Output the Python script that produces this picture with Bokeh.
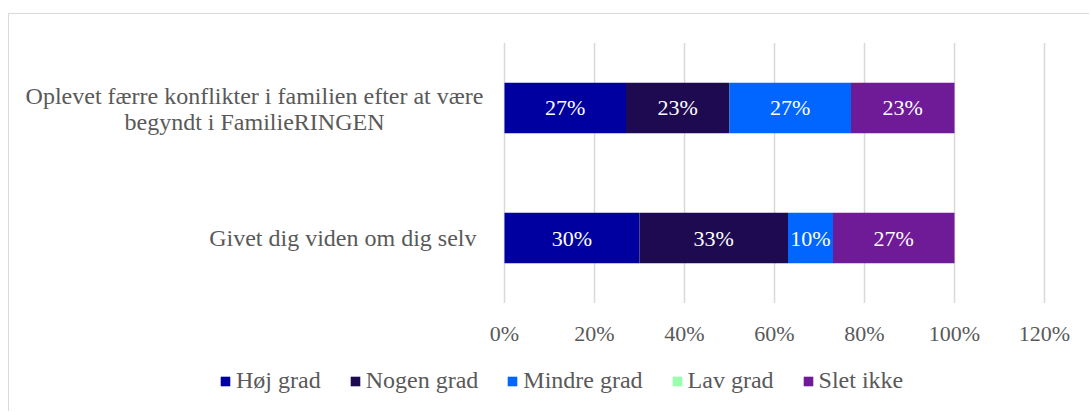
from bokeh.plotting import figure
from bokeh.models import ColumnDataSource, Range1d, Legend
from bokeh.core.properties import value
from bokeh.embed import file_html
from bokeh.resources import INLINE
import numpy as np

# ---- data ----
categories = ["Givet dig viden om dig selv",
              "Oplevet færre konflikter i familien efter at være begyndt i FamilieRINGEN"]
category_labels = ["Givet dig viden om dig selv",
                   "Oplevet færre konflikter i familien efter at være\nbegyndt i FamilieRINGEN"]
series = ["Høj grad", "Nogen grad", "Mindre grad", "Lav grad", "Slet ikke"]
hoej_grad = [0.30, 0.27]
nogen_grad = [0.33, 0.23]
mindre_grad = [0.10, 0.27]
lav_grad = [0.00, 0.00]
slet_ikke = [0.27, 0.23]
colors = ["#0000A0", "#1E0A50", "#0066FF", "#99FFAA", "#6F1A96"]
x_ticks = [0, 0.2, 0.4, 0.6, 0.8, 1.0, 1.2]
x_tick_labels = ["0%", "20%", "40%", "60%", "80%", "100%", "120%"]

FONT = "Liberation Serif"
GREY = "#595959"
GRID = "#d9d9d9"

values = [hoej_grad, nogen_grad, mindre_grad, lav_grad, slet_ikke]
ypos = list(range(len(categories)))
data = {"y": ypos}
for name, vals in zip(series, values):
    data[name] = vals
source = ColumnDataSource(data)

W, H = 1081, 398
p = figure(width=W, height=H, output_backend="svg", toolbar_location=None,
           x_range=Range1d(-1.1, 1.3022), y_range=Range1d(-1.342, 1.719),
           x_axis_location=None, y_axis_location=None, min_border=0)
p.styles = {"border-top": "1px solid #d9d9d9", "border-left": "1px solid #d9d9d9",
            "margin-top": "13px", "margin-left": "8px"}
p.outline_line_color = None
p.background_fill_color = "white"
p.border_fill_color = "white"
p.grid.grid_line_color = None

# vertical gridlines at the tick positions, spanning the category band
p.segment(x0=x_ticks, x1=x_ticks, y0=[-0.5] * len(x_ticks),
          y1=[len(categories) - 0.5] * len(x_ticks), line_color=GRID, line_width=1.5)

renderers = p.hbar_stack(series, y="y", height=0.39, color=colors, line_color=None,
                         source=source)

# value labels
arr = np.array(values)
cum = np.cumsum(arr, axis=0)
lx, ly, lt = [], [], []
for i in range(len(series)):
    for j in ypos:
        v = arr[i, j]
        if v > 0:
            lx.append(cum[i, j] - v / 2)
            ly.append(j)
            lt.append(f"{round(v * 100)}%")
p.text(x=lx, y=ly, text=lt, text_color="white", text_font=value(FONT),
       text_font_size="22px", text_align="center", text_baseline="middle")

# x tick labels
p.text(x=x_ticks, y=[-0.5] * len(x_ticks), text=x_tick_labels, y_offset=30,
       text_color=GREY, text_font=value(FONT), text_font_size="22px",
       text_align="center", text_baseline="middle")

# category labels
for j, lab in zip(ypos, category_labels):
    lines = lab.split("\n")
    n = len(lines)
    if n > 1:
        offs = [(k - (n - 1) / 2) * 26 + 1 for k in range(n)]
        p.text(x=[0] * n, y=[j] * n, text=lines, x_offset=-250, y_offset=offs,
               text_color=GREY, text_font=value(FONT), text_font_size="24px",
               text_align="center", text_baseline="middle")
    else:
        p.text(x=[0], y=[j], text=lines, x_offset=-28,
               text_color=GREY, text_font=value(FONT), text_font_size="24px",
               text_align="right", text_baseline="middle")

legend = Legend(items=[(s, [r]) for s, r in zip(series, renderers)],
                orientation="horizontal", location=(210, 18),
                label_text_font=FONT, label_text_font_size="24px",
                label_text_color=GREY, glyph_width=12, glyph_height=12,
                label_height=24, label_standoff=5, spacing=28, padding=0,
                margin=0, border_line_color=None, background_fill_alpha=0)
p.add_layout(legend, "center")

open("out.html", "w").write(file_html(p, INLINE))
